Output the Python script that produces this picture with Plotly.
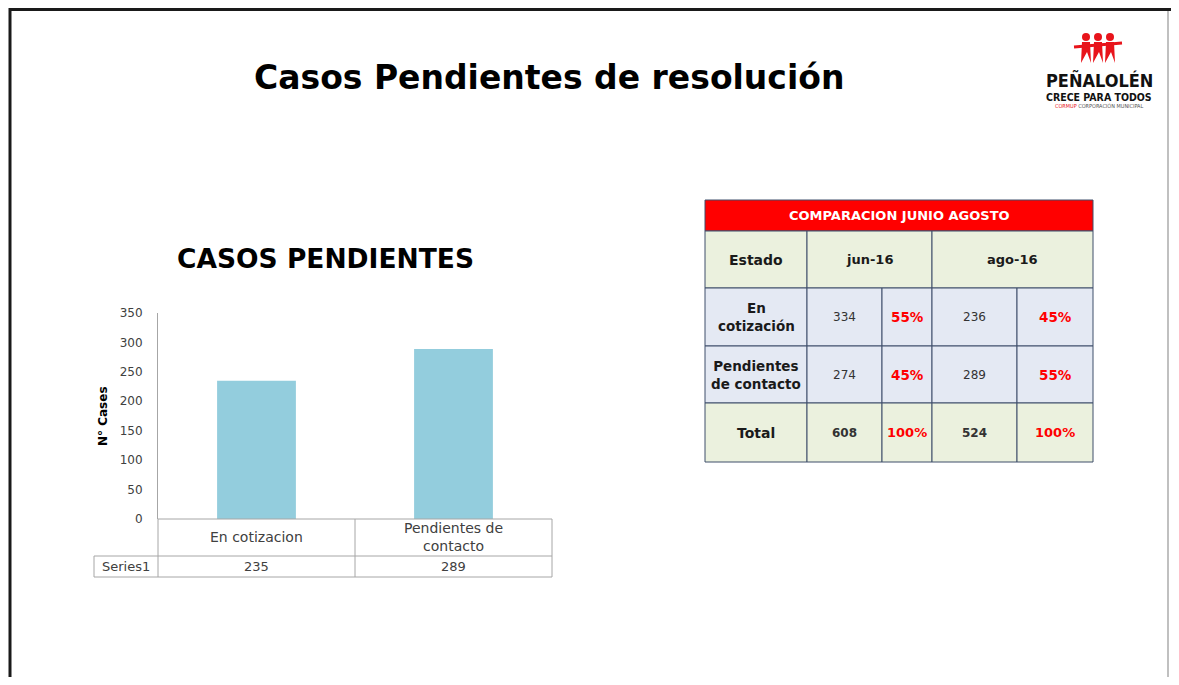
import plotly.graph_objects as go

# ---------------- data ----------------
categories = ["En cotizacion", "Pendientes de contacto"]
category_labels = ["En cotizacion", "Pendientes de<br>contacto"]
series_name = "Series1"
series_values = [235, 289]
y_ticks = [0, 50, 100, 150, 200, 250, 300, 350]

table_title = "COMPARACION JUNIO AGOSTO"
table_header = ["Estado", "jun-16", "ago-16"]
row_labels = ["En<br>cotización", "Pendientes<br>de contacto", "Total"]
jun_values = ["334", "274", "608"]
jun_pct = ["55%", "45%", "100%"]
ago_values = ["236", "289", "524"]
ago_pct = ["45%", "55%", "100%"]

# page offset of the plotly div (body margin)
OFF = 8
W, H = 1179 - 2 * OFF, 685 - 2 * OFF
L, R, T, B = 158, 552, 313, 519   # plot area in page pixels


def px(x):
    return (x - L) / (R - L)


def py(y):
    return (B - y) / (B - T)


FONT = "DejaVu Sans, Verdana, sans-serif"
COND = "DejaVu Sans Condensed, DejaVu Sans, sans-serif"

fig = go.Figure()
fig.add_trace(go.Bar(
    x=categories, y=series_values, name=series_name,
    marker=dict(color="#93CDDD", line=dict(width=0)),
    width=0.4, hoverinfo="x+y",
))

shapes = []
ann = []


def line(x0, y0, x1, y1, color, width=1):
    shapes.append(dict(type="line", xref="paper", yref="paper",
                       x0=px(x0), y0=py(y0), x1=px(x1), y1=py(y1),
                       line=dict(color=color, width=width), layer="above"))


def rect(x0, y0, x1, y1, fill, color="#3F4F6B", width=1):
    shapes.append(dict(type="rect", xref="paper", yref="paper",
                       x0=px(x0), y0=py(y0), x1=px(x1), y1=py(y1),
                       fillcolor=fill, line=dict(color=color, width=width), layer="below"))


def text(x, y, s, size=12, color="#000", bold=False, family=FONT, xanchor="center"):
    if bold:
        s = "<b>" + s + "</b>"
    ann.append(dict(xref="paper", yref="paper", x=px(x), y=py(y), text=s,
                    showarrow=False, xanchor=xanchor, yanchor="middle",
                    font=dict(size=size, color=color, family=family)))


# page border
line(10, 9.5, 1177, 9.5, "#1a1a1a", 3)
line(10, 8, 10, 690, "#1a1a1a", 3)
line(1168, 11, 1168, 690, "#C0C0C0", 2)

# titles
text(549, 78, "Casos Pendientes de resolución", 33, "#000", True)
text(325, 259, "CASOS PENDIENTES", 26.5, "#000", True)

# y-axis title
ann.append(dict(xref="paper", yref="paper", x=px(103), y=py(416), text="<b>N° Cases</b>",
                showarrow=False, textangle=-90, xanchor="center", yanchor="middle",
                font=dict(size=12, color="#000", family=FONT)))

# data table under the chart
gc = "#A6A6A6"
line(L, B, R, B, gc)
line(L, B, L, 577, gc)
line((L + R) / 2, B, (L + R) / 2, 577, gc)
line(R, B, R, 577, gc)
line(94, 556, R, 556, gc)
line(94, 577, R, 577, gc)
line(94, 556, 94, 577, gc)
text(126, 566, series_name, 13, "#404040")
for cat, lab, v in zip(categories, category_labels, series_values):
    ann.append(dict(xref="x", yref="paper", x=cat, y=py(537), text=lab, showarrow=False,
                    xanchor="center", yanchor="middle",
                    font=dict(size=14, color="#404040", family=FONT)))
    ann.append(dict(xref="x", yref="paper", x=cat, y=py(566), text=str(v), showarrow=False,
                    xanchor="center", yanchor="middle",
                    font=dict(size=13, color="#404040", family=FONT)))

# comparison table on the right
cx = [705, 807, 882, 932, 1017, 1093]
ry = [200, 231, 288, 346, 403, 462]
beige = "#EBF1DE"
blue = "#E4E9F3"
bc = "#3F4F6B"
rect(cx[0], ry[0], cx[5], ry[1], "#FF0000", bc)
text((cx[0] + cx[5]) / 2, (ry[0] + ry[1]) / 2, table_title, 13, "#FFFFFF", True)
rect(cx[0], ry[1], cx[1], ry[2], beige, bc)
rect(cx[1], ry[1], cx[3], ry[2], beige, bc)
rect(cx[3], ry[1], cx[5], ry[2], beige, bc)
text((cx[0] + cx[1]) / 2, (ry[1] + ry[2]) / 2, table_header[0], 14, "#1a1a1a", True)
text((cx[1] + cx[3]) / 2, (ry[1] + ry[2]) / 2, table_header[1], 13, "#1a1a1a", True)
text((cx[3] + cx[5]) / 2, (ry[1] + ry[2]) / 2, table_header[2], 13, "#1a1a1a", True)
for i in range(3):
    y0, y1 = ry[2 + i], ry[3 + i]
    ym = (y0 + y1) / 2
    fill = beige if i == 2 else blue
    for j in range(5):
        rect(cx[j], y0, cx[j + 1], y1, fill, bc)
    is_total = i == 2
    text((cx[0] + cx[1]) / 2, ym, row_labels[i], 14 if is_total else 13.5, "#1a1a1a", True)
    text((cx[1] + cx[2]) / 2, ym, jun_values[i], 12, "#333333", is_total)
    text((cx[2] + cx[3]) / 2, ym, jun_pct[i], 13.5 if not is_total else 13, "#FF0000", True)
    text((cx[3] + cx[4]) / 2, ym, ago_values[i], 12, "#333333", is_total)
    text((cx[4] + cx[5]) / 2, ym, ago_pct[i], 13.5 if not is_total else 13, "#FF0000", True)

# logo (approximation)
red = "#E8141B"
for hx in [1086, 1098, 1110]:
    shapes.append(dict(type="circle", xref="paper", yref="paper",
                       x0=px(hx - 4), x1=px(hx + 4), y0=py(41), y1=py(33),
                       fillcolor=red, line=dict(width=0)))
    path = "M {a},{b} L {c},{d} L {e},{f} L {g},{h} L {i},{j} L {k},{l} Z".format(
        a=px(hx - 4), b=py(42), c=px(hx + 4), d=py(42), e=px(hx + 5), f=py(63),
        g=px(hx + 1), h=py(52), i=px(hx - 5), j=py(63), k=px(hx - 4), l=py(42))
    shapes.append(dict(type="path", xref="paper", yref="paper", path=path,
                       fillcolor=red, line=dict(width=0)))
line(1074, 47, 1122, 43, red, 3)
text(1099, 80, "PEÑALOLÉN", 18, "#111", True, COND)
text(1099, 97, "CRECE PARA TODOS", 10.5, "#111", True, COND)
text(1099, 106, "<span style='color:#E8141B'>CORMUP</span> CORPORACIÓN MUNICIPAL", 5.5, "#555", False, COND)

fig.update_layout(
    width=W, height=H, autosize=False,
    margin=dict(l=L - OFF, r=W - (R - OFF), t=T - OFF, b=H - (B - OFF), pad=0),
    paper_bgcolor="white", plot_bgcolor="white",
    showlegend=False,
    bargap=0.6,
    xaxis=dict(showticklabels=False, showline=False, showgrid=False, zeroline=False,
               ticks="", fixedrange=True),
    yaxis=dict(range=[0, 350], tickvals=y_ticks, showgrid=False, zeroline=False,
               showline=True, linecolor="#A6A6A6", linewidth=1, ticks="",
               ticklabelstandoff=12,
               tickfont=dict(size=12, color="#404040", family=FONT), fixedrange=True),
    shapes=shapes, annotations=ann,
)

fig.write_html("out.html")
